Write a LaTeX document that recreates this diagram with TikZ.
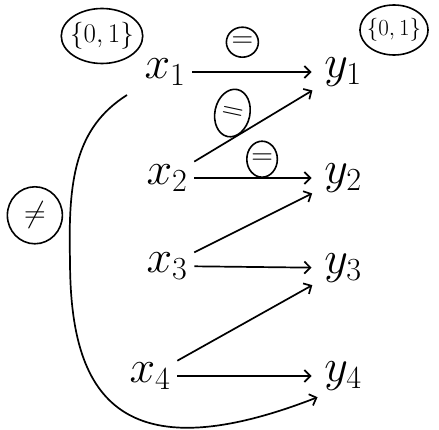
\RequirePackage{fix-cm}
\documentclass[tikz,border=0pt]{standalone}
\usetikzlibrary{shapes.geometric, arrows.meta}
\begin{document}
\begin{tikzpicture}[x=1pt, y=-1pt,
  var/.style={inner sep=6pt, font=\fontsize{46}{50}\selectfont},
  lab/.style={draw, ellipse, line width=1.6pt, inner sep=0pt,
    minimum width=32pt, minimum height=30pt, font=\fontsize{30}{34}\selectfont},
  set/.style={draw, ellipse, line width=1.6pt, inner sep=-3pt},
  every path/.style={line width=1.7pt},
  >={Straight Barb[length=6pt, width=12pt]}]
\useasboundingbox (0,0) rectangle (439,430);

\node[var] (x1) at (165,72) {$x_1$};
\node[var] (x2) at (167,178) {$x_2$};
\node[var] (x3) at (167,266) {$x_3$};
\node[var] (x4) at (150,376) {$x_4$};
\node[var] (y1) at (343,72) {$y_1$};
\node[var] (y2) at (343,178) {$y_2$};
\node[var] (y3) at (343,268) {$y_3$};
\node[var] (y4) at (343,376) {$y_4$};

\node[set, minimum width=70pt, minimum height=55pt,
  font=\fontsize{27}{30}\selectfont] (sx) at (102,36) {$\{0,1\}$};
\node[set, minimum width=68pt, minimum height=50pt,
  font=\fontsize{23}{26}\selectfont] (sy) at (394,30) {$\{0,1\}$};

\draw[->, shorten >=6pt] (x1) -- node[lab, pos=0.4, above=14pt] (e11) {$=$} (y1);
\draw[->, shorten >=6pt] (x2) -- node[lab, pos=0.3, above=2pt, xshift=-4pt,
  minimum width=35pt, minimum height=48pt, rotate=-12] (e21) {$=$} (y1);
\draw[->, shorten >=6pt] (x2) -- node[lab, pos=0.55, above=0pt,
  minimum width=30pt, minimum height=36pt] (e22) {$=$} (y2);
\draw[->, shorten >=6pt] (x3) -- (y2);
\draw[->, shorten >=6pt] (x3) -- (y3);
\draw[->, shorten >=6pt] (x4) -- (y3);
\draw[->, shorten >=6pt] (x4) -- (y4);
\draw[->] (127,95) .. controls (75,128) and (68,180) .. (70,260)
  node[lab, pos=0.8, left=7pt, minimum width=55pt, minimum height=57pt] (ne) {$\neq$}
  .. controls (70,385) and (110,478) .. (y4.south west);
\end{tikzpicture}
\end{document}
